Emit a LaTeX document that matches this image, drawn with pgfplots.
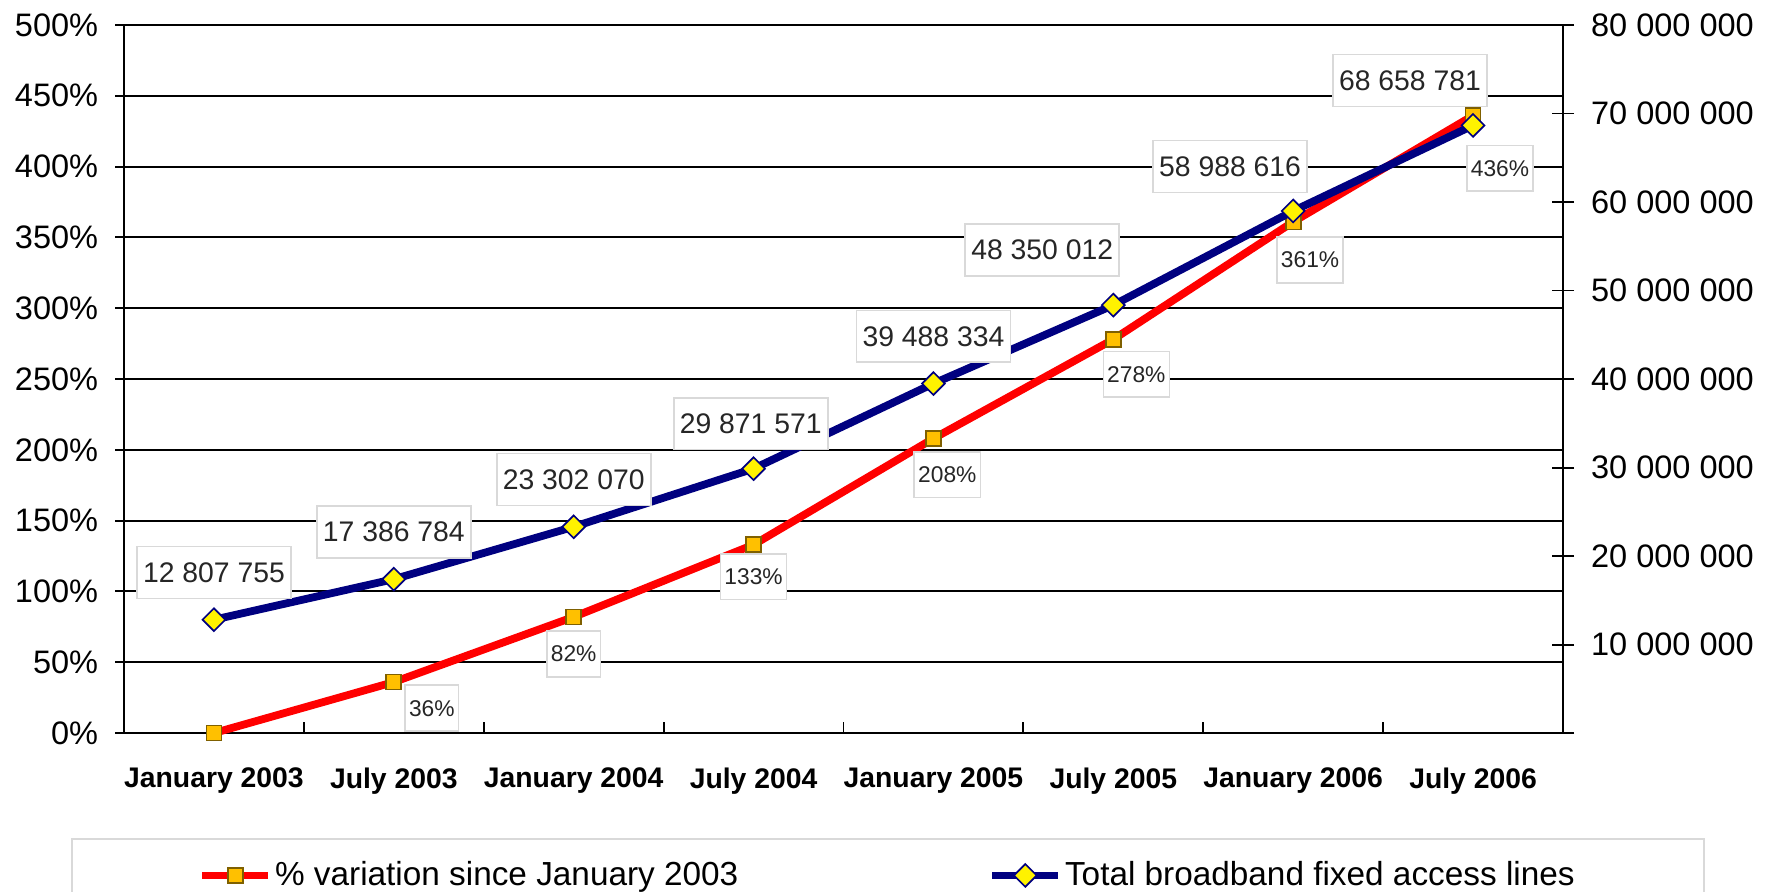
\documentclass[border=0pt]{standalone}
\usepackage{pgfplots}
\pgfplotsset{compat=1.18}
\usepackage{pgfplotstable}
\usepackage{fontspec}
\setmainfont{Liberation Sans}

\definecolor{linered}{HTML}{FF0000}
\definecolor{linenavy}{HTML}{000080}
\definecolor{sqfill}{HTML}{FFC000}
\definecolor{sqdraw}{HTML}{7F6000}
\definecolor{boxgray}{HTML}{D9D9D9}

% % variation since January 2003 (left axis)
\pgfplotstableread{
x pct dx dy
0 0 0 0
1 36 13.7 -9.4
2 82 0 -13.3
3 133 0 -11.5
4 208 5 -13
5 278 8.3 -12.6
6 361 6.1 -13.7
7 436 9.7 -19
}\pcttable

% total broadband fixed access lines (right axis)
\pgfplotstableread{
x lines lab dx dy
0 12807755 {12 807 755} 0 17
1 17386784 {17 386 784} 0 17
2 23302070 {23 302 070} 0 17
3 29871571 {29 871 571} -1 16.2
4 39488334 {39 488 334} 0 17
5 48350012 {48 350 012} -25.6 19.8
6 58988616 {58 988 616} -22.7 16
7 68658781 {68 658 781} -22.7 16.2
}\linetable

\tikzset{
  labelbox/.style={draw=boxgray, fill=white, line width=0.6pt, text=black!85,
    anchor=center, xshift=\labdx, yshift=\labdy},
}

\begin{document}
\begin{tikzpicture}
  \begin{axis}[
      name=ax,
      scale only axis,
      width=518pt, height=254.88pt,
      xmin=-0.5, xmax=7.5, ymin=0, ymax=500,
      axis lines*=left,
      axis line style={line width=0.8pt, black, -},
      xtick={0,...,7},
      xticklabels={January 2003, July 2003, January 2004, July 2004,
        January 2005, July 2005, January 2006, July 2006},
      major x tick style={draw=none},
      minor xtick={0.5,1.5,...,6.5},
      xtick align=inside,
      minor tick length=4pt,
      x tick label style={font=\fontsize{10.2}{12}\selectfont\bfseries, yshift=-9pt},
      ytick={0,50,...,500},
      yticklabels={0\%,50\%,100\%,150\%,200\%,250\%,300\%,350\%,400\%,450\%,500\%},
      ytick align=outside,
      major tick length=3.2pt,
      y tick label style={font=\fontsize{11.7}{14}\selectfont, xshift=-2.6pt},
      tick style={line width=0.7pt, black},
      ymajorgrids=true,
      grid style={line width=0.7pt, black},
      clip=false,
      legend columns=2,
      legend image code/.code={
        \draw[mark repeat=2, mark phase=2, #1]
          plot coordinates {(0pt,0pt) (11.9pt,0pt) (23.8pt,0pt)};
      },
      legend style={
        at={(rel axis cs:-0.0368,-0.1483)}, anchor=north west,
        draw=boxgray, line width=0.7pt,
        inner xsep=45.5pt, inner ysep=6pt,
        font=\fontsize{12}{14}\selectfont,
        nodes={inner xsep=1pt},
        /tikz/every even column/.append style={column sep=89pt},
      },
    ]
    \addplot[linered, line width=2.8pt, mark=square*, mark size=2.7pt,
      mark options={fill=sqfill, draw=sqdraw, line width=0.6pt}]
      table[x=x, y=pct] {\pcttable};
    \addlegendentry{\% variation since January 2003}
    \addlegendimage{linenavy, line width=2.8pt, mark=square*, mark size=2.9pt,
      mark options={rotate=45, fill=yellow, draw=linenavy, line width=0.6pt}}
    \addlegendentry{Total broadband fixed access lines}
    \addplot[draw=none, forget plot, skip coords between index={0}{1},
      point meta=explicit,
      visualization depends on={\thisrow{dx} \as \labdx},
      visualization depends on={\thisrow{dy} \as \labdy},
      nodes near coords={\pgfmathprintnumber[assume math mode=true]{\pgfplotspointmeta}\%},
      every node near coord/.append style={labelbox,
        font=\fontsize{8.2}{10}\selectfont, inner xsep=1.4pt, minimum height=16.5pt}]
      table[x=x, y=pct, meta=pct] {\pcttable};
  \end{axis}
  \begin{axis}[
      scale only axis,
      width=518pt, height=254.88pt,
      xmin=-0.5, xmax=7.5, ymin=0, ymax=80000000,
      axis x line=none,
      axis y line*=right,
      axis line style={line width=0.8pt, black, -},
      scaled y ticks=false,
      ytick={0,10000000,20000000,30000000,40000000,50000000,60000000,70000000,80000000},
      yticklabels={,10 000 000,20 000 000,30 000 000,40 000 000,50 000 000,
        60 000 000,70 000 000,80 000 000},
      ytick align=center,
      major tick length=8pt,
      tick style={line width=0.7pt, black},
      y tick label style={font=\fontsize{11.7}{14}\selectfont, xshift=2.6pt},
      clip=false,
    ]
    \addplot[linenavy, line width=2.8pt, mark=square*, mark size=2.9pt,
      mark options={rotate=45, fill=yellow, draw=linenavy, line width=0.6pt},
      point meta=explicit symbolic,
      visualization depends on={\thisrow{dx} \as \labdx},
      visualization depends on={\thisrow{dy} \as \labdy},
      nodes near coords,
      every node near coord/.append style={labelbox,
        font=\fontsize{10.2}{12}\selectfont, inner xsep=2.2pt, minimum height=18.7pt}]
      table[x=x, y=lines, meta=lab] {\linetable};
  \end{axis}
  \pgfresetboundingbox
  \useasboundingbox ([xshift=-44.64pt, yshift=-56.88pt]ax.south west)
    rectangle ([xshift=76.32pt, yshift=9pt]ax.north east);
\end{tikzpicture}
\end{document}
